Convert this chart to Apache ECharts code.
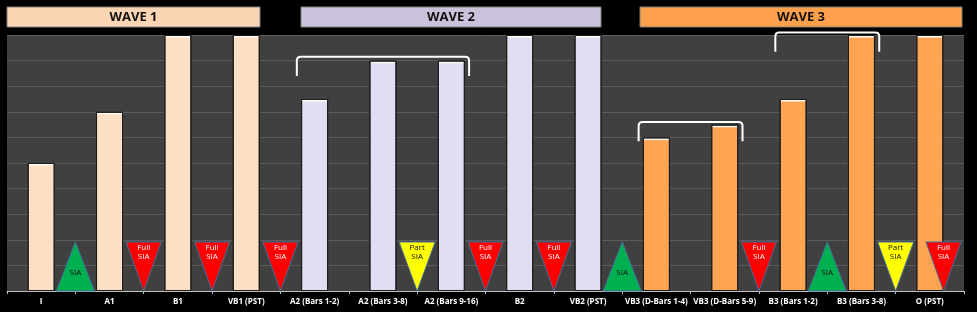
<!DOCTYPE html>
<html>
<head>
<meta charset="utf-8">
<script src="https://cdn.jsdelivr.net/npm/echarts@6/dist/echarts.min.js"></script>
<style>
html,body{margin:0;padding:0;background:#000;}
#chart{width:977px;height:312px;}
</style>
</head>
<body>
<div id="chart"></div>
<script>
// ---- data ----
var categories = ['I','A1','B1','VB1 (PST)','A2 (Bars 1-2)','A2 (Bars 3-8)','A2 (Bars 9-16)','B2','VB2 (PST)','VB3 (D-Bars 1-4)','VB3 (D-Bars 5-9)','B3 (Bars 1-2)','B3 (Bars 3-8)','O (PST)'];
var barValues = [5, 7, 10, 10, 7.5, 9, 9, 10, 10, 6, 6.5, 7.5, 10, 10];
var barWave = [1,1,1,1,2,2,2,2,2,3,3,3,3,3];
var waveNames = ['WAVE 1','WAVE 2','WAVE 3'];
// markers sit on category boundaries (boundary k = between category k-1 and k)
var markerPos = [1, 2, 3, 4, 6, 7, 8, 9, 11, 12, 13, 13.7];
var markerType = ['SIA','Full','Full','Full','Part','Full','Full','SIA','Full','SIA','Part','Full'];
// brackets: first category, last category, level of the bracket top
var bracketFirst = [4, 9, 11];
var bracketLast = [6, 10, 12];
var bracketLevel = [9.15, 6.6, 10.1];

// ---- styles ----
var waveBarColor = {1:'#FDE0C4', 2:'#E3DDF3', 3:'#FDA552'};
var waveHeadColor = ['#FCD5B5', '#CCC1DA', '#FFA04C'];
var markerStyle = {
  SIA:  {color:'#00B050', up:true,  size:[38,49], text:'SIA',       textColor:'#111'},
  Full: {color:'#FF0000', up:false, size:[35,49], text:'Full\nSIA', textColor:'#fff'},
  Part: {color:'#FFFF00', up:false, size:[36,49], text:'Part\nSIA', textColor:'#111'}
};
var downTri = 'path://M0,0 L10,0 L5,10 Z';
var upTri = 'path://M5,0 L10,10 L0,10 Z';

var chart = echarts.init(document.getElementById('chart'));

var barData = barValues.map(function(v, i){
  var c = waveBarColor[barWave[i]];
  var hl = 2 / (v * 25.6);
  return {
    value: v,
    itemStyle: {
      color: {type:'linear', x:0, y:0, x2:0, y2:1, colorStops:[
        {offset:0, color:'#ffffff'}, {offset:hl, color:'#fff8ef'},
        {offset:hl*1.6, color:c}, {offset:1, color:c}]}
    }
  };
});

var markerData = markerPos.map(function(p, i){
  var s = markerStyle[markerType[i]];
  return {
    value: [p, 0],
    symbol: s.up ? upTri : downTri,
    symbolSize: s.size,
    symbolOffset: [0, -s.size[1]/2],
    itemStyle: {color: s.color, borderColor:'#41719C', borderWidth:1, opacity: 1},
    label: {
      show: true, formatter: s.text, color: s.textColor,
      position: 'inside', offset: s.up ? [0, 6] : [0, -14],
      fontSize: 8, lineHeight: 9, fontFamily: 'Open Sans'
    }
  };
});

var bracketData = bracketFirst.map(function(f, i){ return [f, bracketLast[i], bracketLevel[i]]; });

var option = {
  backgroundColor: '#000000',
  animation: false,
  grid: {left: 7, right: 13, top: 35, bottom: 21, show: true, backgroundColor: '#404040', borderWidth: 0},
  xAxis: [{
    type: 'category',
    data: categories,
    axisLine: {lineStyle: {color: '#bfbfbf', width: 1}},
    axisTick: {show: true, length: 3, lineStyle: {color: '#bfbfbf'}},
    axisLabel: {color: '#ffffff', fontSize: 8, fontWeight: 'bold', interval: 0, margin: 7, fontFamily: 'Open Sans'}
  }, {
    type: 'value', min: 0, max: 14, show: false
  }],
  yAxis: {
    type: 'value', min: 0, max: 10, interval: 1,
    axisLabel: {show: false}, axisLine: {show: false}, axisTick: {show: false},
    splitLine: {lineStyle: {color: '#5c5c5c', width: 1}}
  },
  series: [{
    type: 'bar',
    data: barData,
    barWidth: 27,
    itemStyle: {borderColor: '#1c1c1c', borderWidth: 1},
    z: 2
  }, {
    type: 'scatter',
    xAxisIndex: 1,
    data: markerData,
    itemStyle: {opacity: 1},
    emphasis: {disabled: true},
    z: 3
  }, {
    type: 'custom',
    xAxisIndex: 0,
    clip: false,
    data: bracketData,
    z: 4,
    renderItem: function(params, api){
      var w = api.size([1, 0])[0];
      var a = api.coord([api.value(0), api.value(2)]);
      var b = api.coord([api.value(1), api.value(2)]);
      var drop = api.size([0, 0.75])[1];
      var x1 = a[0] - 0.26*w, x2 = b[0] + 0.26*w, yt = a[1], yl = a[1] + drop, r = 4;
      var d = 'M' + x1 + ',' + yl + ' L' + x1 + ',' + (yt + r) + ' Q' + x1 + ',' + yt + ' ' + (x1 + r) + ',' + yt +
              ' L' + (x2 - r) + ',' + yt + ' Q' + x2 + ',' + yt + ' ' + x2 + ',' + (yt + r) + ' L' + x2 + ',' + yl;
      return {type: 'path', shape: {pathData: d}, style: {stroke: '#ffffff', lineWidth: 2, fill: null}};
    }
  }]
};
chart.setOption(option);

// wave header bands
var headers = [];
var headerBounds = [[7, 260], [301, 601], [640, 962]];
waveNames.forEach(function(name, w){
  var bx = headerBounds[w];
  headers.push({
    type: 'rect', shape: {x: bx[0], y: 7, width: bx[1]-bx[0], height: 20},
    style: {fill: waveHeadColor[w], stroke: '#7f7f7f', lineWidth: 1}, z: 10
  });
  headers.push({
    type: 'text', x: (bx[0]+bx[1])/2, y: 17,
    style: {text: name, fill: '#111111', font: 'bold 13px "Open Sans"', align: 'center', verticalAlign: 'middle'}, z: 11
  });
});
chart.setOption({graphic: headers});
</script>
</body>
</html>
